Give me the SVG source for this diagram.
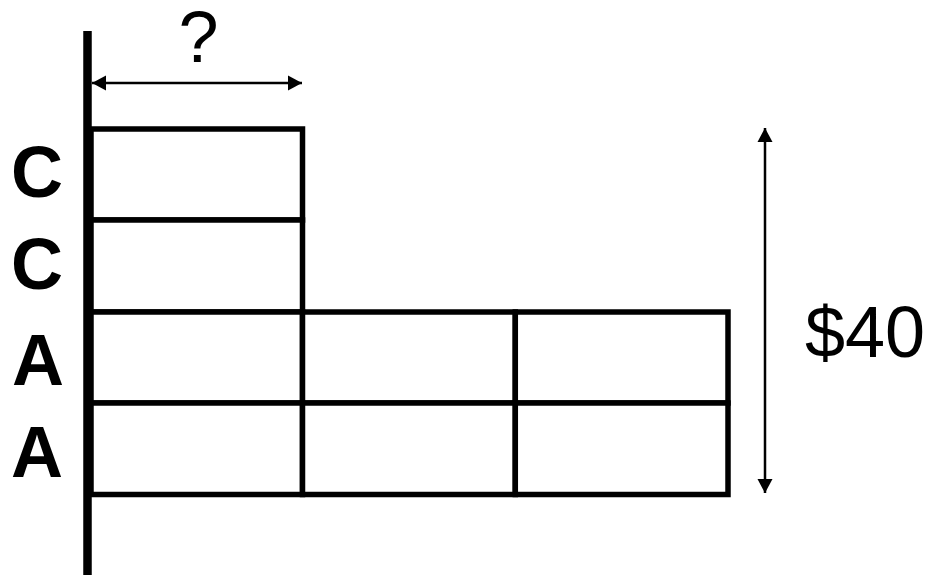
<svg xmlns="http://www.w3.org/2000/svg" width="930" height="575" viewBox="0 0 930 575">
<style>
.cell{fill:#fff;stroke:#000;stroke-width:5.5}
.lbl{font-family:"Liberation Sans",Arial,sans-serif;font-weight:bold;font-size:72px;fill:#000;text-anchor:middle}
.dim{font-family:"Liberation Sans",Arial,sans-serif;font-size:72px;fill:#000}
.arr{stroke:#000;stroke-width:2.5;fill:none}
</style>
<defs>
<marker id="ah" markerUnits="userSpaceOnUse" markerWidth="14" markerHeight="16" refX="14" refY="8" orient="auto-start-reverse" viewBox="0 0 14 16">
<path d="M0,0.5 L14,8 L0,15.5 Z" fill="#000"/>
</marker>
</defs>
<rect width="930" height="575" fill="#fff"/>
<g id="cells">
<g id="cell-c1"><rect class="cell" x="91" y="129" width="211.5" height="91"/></g>
<g id="cell-c2"><rect class="cell" x="91" y="220" width="211.5" height="92"/></g>
<g id="cell-a1-1"><rect class="cell" x="91" y="312" width="211.5" height="91"/></g>
<g id="cell-a1-2"><rect class="cell" x="302.5" y="312" width="212.8" height="91"/></g>
<g id="cell-a1-3"><rect class="cell" x="515.3" y="312" width="212.7" height="91"/></g>
<g id="cell-a2-1"><rect class="cell" x="91" y="403" width="211.5" height="91.5"/></g>
<g id="cell-a2-2"><rect class="cell" x="302.5" y="403" width="212.8" height="91.5"/></g>
<g id="cell-a2-3"><rect class="cell" x="515.3" y="403" width="212.7" height="91.5"/></g>
</g>
<g id="axis"><line x1="87.5" y1="31" x2="87.5" y2="575" stroke="#000" stroke-width="8.5"/></g>
<g id="labels">
<g id="label-c1"><text class="lbl" x="37" y="197">C</text></g>
<g id="label-c2"><text class="lbl" x="37" y="289">C</text></g>
<g id="label-a1"><text class="lbl" x="38" y="385">A</text></g>
<g id="label-a2"><text class="lbl" x="37" y="477">A</text></g>
<g id="label-q"><text class="dim" x="198.5" y="62" text-anchor="middle">?</text></g>
<g id="label-40"><text class="dim" x="805" y="357">$40</text></g>
</g>
<g id="connectors">
<line class="arr" x1="92" y1="83" x2="302" y2="83" marker-start="url(#ah)" marker-end="url(#ah)"/>
<line class="arr" x1="765" y1="128" x2="765" y2="493" marker-start="url(#ah)" marker-end="url(#ah)"/>
</g>
</svg>
